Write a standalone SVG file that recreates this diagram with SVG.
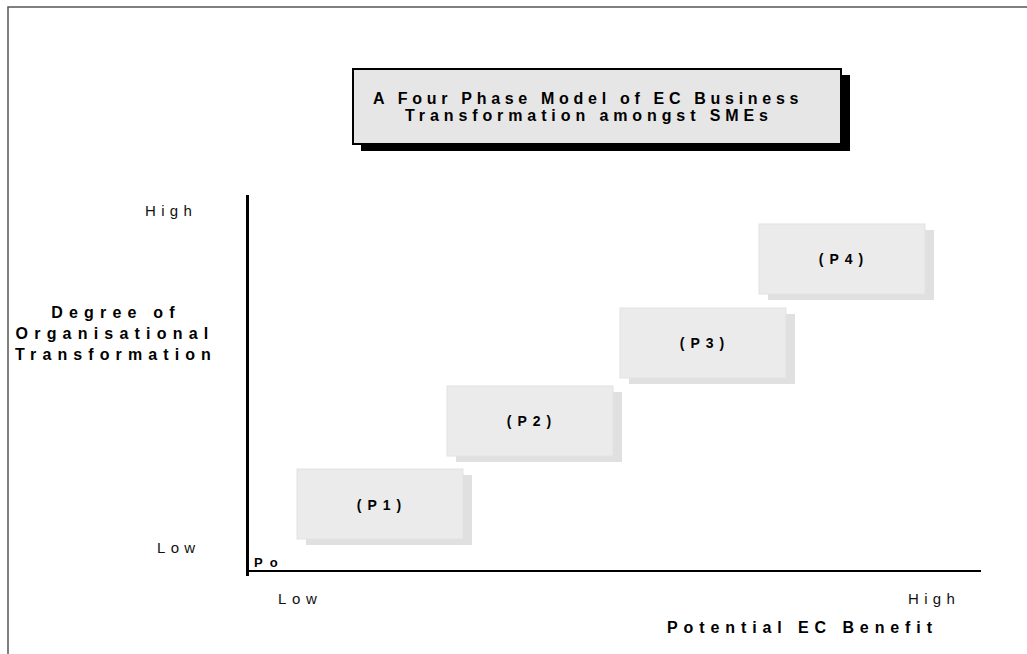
<svg xmlns="http://www.w3.org/2000/svg" width="1027" height="654" viewBox="0 0 1027 654">
<style>
text{font-family:"Liberation Sans",Arial,sans-serif;fill:#000}
.b{font-weight:bold;font-size:16px}
.r{font-size:15px;letter-spacing:5.3px;fill:#111}
.ph{font-weight:bold;font-size:14px;letter-spacing:6px;text-anchor:middle}
.sh{fill:#e0e0e0}
.bx{fill:#ebebeb;stroke:#e2e2e2;stroke-width:1}
</style>
<rect width="1027" height="654" fill="#fff"/>
<g id="frame" fill="none" stroke="#555" stroke-width="1.5">
<polyline points="8,654 8,7 1027,7"/>
</g>
<g id="title">
<rect x="361" y="75" width="489" height="76" fill="#000"/>
<rect x="353" y="69" width="488" height="75" fill="#e6e6e6" stroke="#000" stroke-width="2"/>
<text class="b" x="373" y="103.5" style="letter-spacing:4.7px">A Four Phase Model of EC Business</text>
<text class="b" x="405" y="121" style="letter-spacing:4.9px">Transformation amongst SMEs</text>
</g>
<g id="axes" stroke="#000" fill="none">
<line x1="247.5" y1="195" x2="247.5" y2="576" stroke-width="3"/>
<line x1="246" y1="571" x2="981" y2="571" stroke-width="2"/>
</g>
<g id="ylabels">
<text class="r" x="145" y="216">High</text>
<text class="r" x="157" y="553">Low</text>
<text class="b" x="116" y="318" text-anchor="middle" style="letter-spacing:6.2px">Degree of</text>
<text class="b" x="115" y="338.5" text-anchor="middle" style="letter-spacing:6.2px">Organisational</text>
<text class="b" x="116" y="360" text-anchor="middle" style="letter-spacing:6.1px">Transformation</text>
</g>
<g id="xlabels">
<text class="r" x="278" y="604" style="letter-spacing:5.7px">Low</text>
<text class="r" x="908" y="604">High</text>
<text class="b" x="667" y="633" style="letter-spacing:5.9px">Potential EC Benefit</text>
<text class="b" x="254" y="566.5" style="font-size:13px;letter-spacing:7px">Po</text>
</g>
<g id="P1">
<rect class="sh" x="306" y="475" width="166" height="70"/>
<rect class="bx" x="297" y="469" width="166" height="70"/>
<text class="ph" x="382" y="509.5">(P1)</text>
</g>
<g id="P2">
<rect class="sh" x="456" y="392" width="166" height="70"/>
<rect class="bx" x="447" y="386" width="166" height="70"/>
<text class="ph" x="532" y="426">(P2)</text>
</g>
<g id="P3">
<rect class="sh" x="629" y="314" width="166" height="70"/>
<rect class="bx" x="620" y="308" width="166" height="70"/>
<text class="ph" x="705" y="348">(P3)</text>
</g>
<g id="P4">
<rect class="sh" x="768" y="230" width="166" height="70"/>
<rect class="bx" x="759" y="224" width="166" height="70"/>
<text class="ph" x="844" y="264">(P4)</text>
</g>
</svg>
